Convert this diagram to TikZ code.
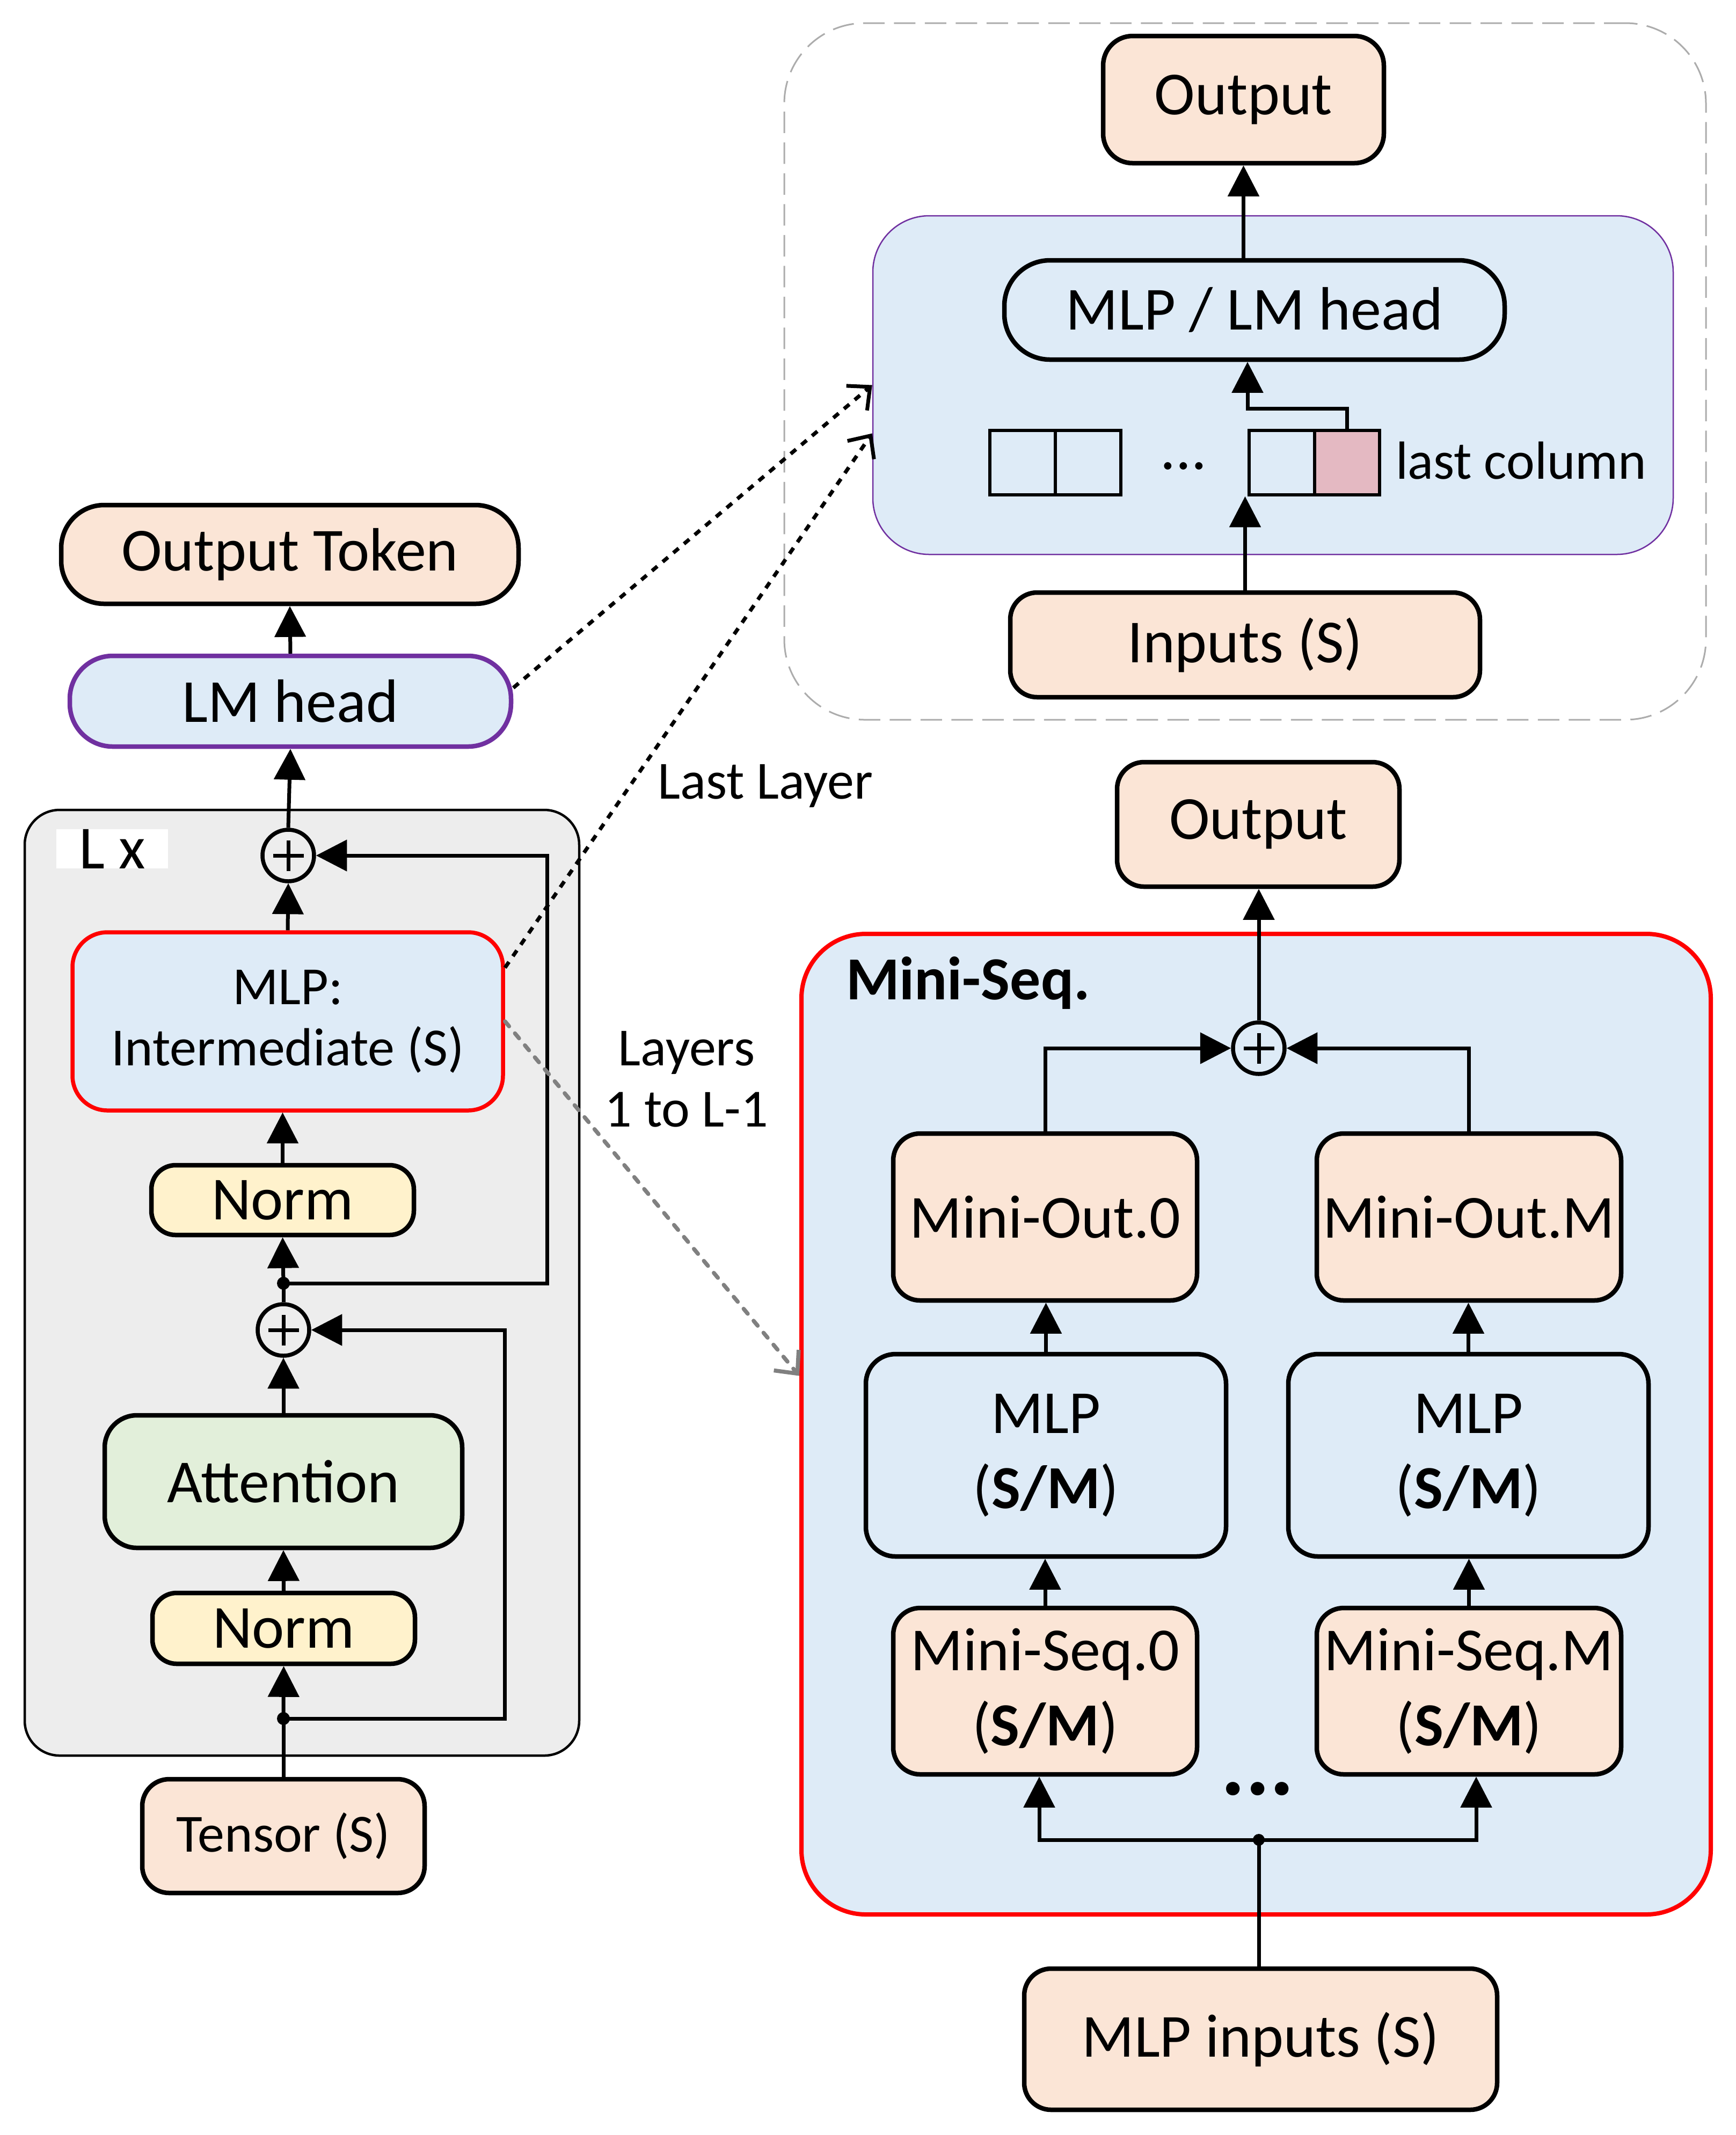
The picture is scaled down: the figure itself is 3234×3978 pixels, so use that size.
\documentclass[tikz,border=0pt]{standalone}
\usepackage{fontspec}
\setmainfont{Carlito}
\usetikzlibrary{arrows.meta,calc}
\definecolor{peach}{HTML}{FBE5D6}
\definecolor{lblue}{HTML}{DEEBF7}
\definecolor{nyellow}{HTML}{FFF2CC}
\definecolor{agreen}{HTML}{E2EFDA}
\definecolor{lgray}{HTML}{EDEDED}
\definecolor{pinkc}{HTML}{E4B9C2}
\definecolor{purp}{HTML}{7030A0}
\definecolor{dgray}{HTML}{808080}
\newcommand\fA{\fontsize{22.8pt}{28pt}\selectfont}
\newcommand\fB{\fontsize{20pt}{22.8pt}\selectfont}
\newcommand\mybox[7]{\node[#6, minimum width={(#4-#2)*0.2pt}, minimum height={(#5-#3)*0.2pt}] (#1) at ({(#2+#4)/2},{(#3+#5)/2}) {#7};}
\begin{document}
\begin{tikzpicture}[x=0.2pt,y=-0.2pt,
  box/.style={draw, line width=1.7pt, inner sep=0pt, align=center, font=\fA},
  arr/.style={line width=1.4pt, -{Triangle[length=11.5pt,width=11.5pt]}},
  ln/.style={line width=1.4pt},
  cell/.style={draw, line width=1.1pt, inner sep=0pt},
  dotl/.style={line width=1.4pt, dash pattern=on 2.6pt off 2.6pt, -{Straight Barb[length=6.5pt,width=12pt]}},
  grayd/.style={dgray, line width=1.5pt, line cap=round, dash pattern=on 2.4pt off 3.4pt, -{Straight Barb[length=6.5pt,width=12pt]}},
  plus/.style={circle, draw, line width=1.5pt, minimum size=19.2pt, inner sep=0pt,
    path picture={\draw[line width=1.4pt] ([xshift=-5.7pt]path picture bounding box.center) -- ([xshift=5.7pt]path picture bounding box.center) ([yshift=-5.7pt]path picture bounding box.center) -- ([yshift=5.7pt]path picture bounding box.center);}}]
\useasboundingbox (0,0) rectangle (3234,3978);

% ---------- left column ----------
\mybox{lx}{46}{1509}{1079}{3271}{draw, line width=0.9pt, fill=lgray, rounded corners=13pt, inner sep=0pt}{}
\mybox{lxl}{105}{1547}{313}{1616}{fill=white, inner sep=0pt, font=\fA}{L x}
\mybox{outtok}{114}{941}{966}{1125}{box, fill=peach, rounded corners=16pt}{Output Token}
\mybox{lmhead}{130}{1222}{952}{1391}{box, fill=lblue, draw=purp, rounded corners=16pt}{LM head}
\node[plus] (p1) at (537,1594) {};
\mybox{mlpi}{135}{1737}{937}{2069}{box, fill=lblue, draw=red, line width=1.5pt, rounded corners=13pt, font=\fB}{MLP:\\Intermediate (S)}
\mybox{norm1}{282}{2171}{771}{2301}{box, fill=nyellow, rounded corners=9pt}{Norm}
\coordinate (d1) at (528,2391);
\node[plus] (p2) at (528,2478) {};
\mybox{attn}{195}{2637}{861}{2884}{box, fill=agreen, rounded corners=12pt}{Attention}
\mybox{norm2}{284}{2968}{773}{3100}{box, fill=nyellow, rounded corners=9pt}{Norm}
\coordinate (d2) at (528,3202);
\mybox{tensor}{265}{3315}{791}{3527}{box, fill=peach, rounded corners=10pt, font=\fB}{Tensor (S)}
\coordinate (r1) at (1019,1594);
\coordinate (r2) at (940,2478);

\draw[ln] (tensor.north) -- (d2);
\draw[arr] (d2) -- (norm2.south);
\draw[arr] (norm2.north) -- (attn.south);
\draw[arr] (attn.north) -- (p2.south);
\draw[ln] (p2.north) -- (d1);
\draw[arr] (d1) -- (norm1.south);
\draw[arr] (norm1.north) -- (norm1.north |- mlpi.south);
\draw[arr] (mlpi.north) -- (p1.south);
\draw[arr] (p1.north) -- (lmhead.south);
\draw[arr] (lmhead.north) -- (outtok.south);
\draw[arr] (d2) -- (d2 -| r2) -- (r2) -- (p2.east);
\draw[arr] (d1) -- (d1 -| r1) -- (r1) -- (p1.east);
\fill (d1) circle (2.4pt);
\fill (d2) circle (2.4pt);

% ---------- top right ----------
\mybox{dashbox}{1461}{43}{3178}{1341}{draw=gray!65, dash pattern=on 8pt off 3.5pt, line width=0.6pt, rounded corners=30pt, inner sep=0pt}{}
\mybox{outtr}{2055}{67}{2578}{304}{box, fill=peach, rounded corners=11pt}{Output}
\mybox{bluebox}{1626}{402}{3117}{1033}{draw=purp, line width=0.5pt, fill=lblue, rounded corners=21pt, inner sep=0pt}{}
\mybox{mlph}{1871}{485}{2803}{670}{box, fill=lblue, rounded corners=17pt}{MLP / LM head}
\mybox{c1}{1844}{802}{1966}{922}{cell}{}
\mybox{c2}{1966}{802}{2088}{922}{cell}{}
\mybox{c3}{2327}{802}{2449}{922}{cell}{}
\mybox{c4}{2449}{802}{2570}{922}{cell, fill=pinkc}{}
\node[font=\fA] (dots1) at (2205,868) {...};
\node[anchor=west, inner sep=0pt, font=\fB] (lastcol) at (2599,858) {last column};
\mybox{inputs}{1882}{1104}{2757}{1299}{box, fill=peach, rounded corners=10pt}{Inputs (S)}
\coordinate (k) at (2324,761);
\draw[arr] (c4.north) |- (k) -- (k |- mlph.south);
\draw[arr] (inputs.north) -- (inputs.north |- c1.south);
\draw[arr] (mlph.north -| outtr.south) -- (outtr.south);

% ---------- bottom right ----------
\mybox{out2}{2081}{1420}{2607}{1652}{box, fill=peach, rounded corners=10pt}{Output}
\mybox{redbox}{1493}{1740}{3187}{3567}{draw=red, line width=1.6pt, fill=lblue, rounded corners=24pt, inner sep=0pt}{}
\node[anchor=west, font=\fA\bfseries, inner sep=0pt] (msl) at (1575,1831) {Mini-Seq.};
\node[plus] (p3) at (2345,1953) {};
\mybox{mo0}{1664}{2112}{2230}{2423}{box, fill=peach, rounded corners=10pt}{Mini-Out.0}
\mybox{moM}{2453}{2112}{3020}{2423}{box, fill=peach, rounded corners=10pt}{Mini-Out.M}
\mybox{mlpL}{1613}{2523}{2284}{2900}{box, fill=lblue, rounded corners=11pt}{MLP\\(\textbf{S/M})}
\mybox{mlpR}{2400}{2523}{3071}{2900}{box, fill=lblue, rounded corners=11pt}{MLP\\(\textbf{S/M})}
\mybox{ms0}{1664}{2996}{2230}{3306}{box, fill=peach, rounded corners=10pt}{Mini-Seq.0\\(\textbf{S/M})}
\mybox{msM}{2453}{2996}{3020}{3306}{box, fill=peach, rounded corners=10pt}{Mini-Seq.M\\(\textbf{S/M})}
\node[font=\fontsize{34pt}{40pt}\selectfont\bfseries] (dots2) at (2343,3333) {...};
\coordinate (d3) at (2345,3428);
\coordinate (bl) at (1936,3428);
\coordinate (br) at (2750,3428);
\mybox{mlpin}{1908}{3668}{2789}{3931}{box, fill=peach, rounded corners=10pt}{MLP inputs (S)}

\draw[ln] (d3 |- mlpin.north) -- (d3);
\draw[arr] (d3) -- (bl) -- (bl |- ms0.south);
\draw[arr] (d3) -- (br) -- (br |- msM.south);
\fill (d3) circle (2.2pt);
\draw[arr] (ms0.north) -- (ms0.north |- mlpL.south);
\draw[arr] (msM.north) -- (msM.north |- mlpR.south);
\draw[arr] (mlpL.north) -- (mlpL.north |- mo0.south);
\draw[arr] (mlpR.north) -- (mlpR.north |- moM.south);
\draw[arr] (mo0.north) |- (p3.west);
\draw[arr] (moM.north) |- (p3.east);
\draw[arr] (p3.north) -- (p3.north |- out2.south);

% ---------- cross connectors and labels ----------
\draw[dotl] ([yshift=5pt]lmhead.east) -- (bluebox.west);
\draw[dotl] ([yshift=20pt]mlpi.east) -- ([yshift=-18pt]bluebox.west);
\draw[grayd] (mlpi.east) -- ([yshift=18pt]redbox.west);
\node[font=\fB] (lastlayer) at (1426,1464) {Last Layer};
\node[font=\fB, align=center] (layers) at (1279,2011) {Layers\\1 to L-1};
\end{tikzpicture}
\end{document}
